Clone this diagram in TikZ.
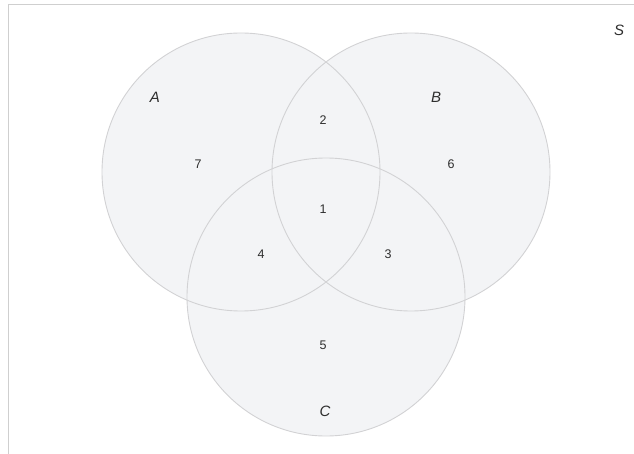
\documentclass[tikz,border=0pt]{standalone}
\usepackage{fontspec}
\setmainfont{Liberation Sans}
\usepackage{tikz}

\definecolor{vennfill}{HTML}{F3F4F6}
\definecolor{vennline}{HTML}{D2D2D4}
\definecolor{vennframe}{HTML}{CFCFCF}
\definecolor{venntext}{HTML}{2E2E2E}

\tikzset{
  setfill/.style={fill=vennfill},
  setline/.style={draw=vennline, line width=0.9pt},
  setname/.style={font=\fontsize{15}{15}\selectfont\itshape, text=venntext},
  region/.style={font=\fontsize{12.5}{12.5}\selectfont, text=venntext}
}

\begin{document}
\begin{tikzpicture}[x=1pt, y=-1pt]
\useasboundingbox (0,0) rectangle (634,454);
% frame of S
\draw[vennframe, line width=1.2pt] (8.5,454) -- (8.5,4.5) -- (634,4.5);
% centres of the three sets
\coordinate (cA) at (241,172);
\coordinate (cB) at (411,172);
\coordinate (cC) at (326,297);
% fill first, outlines after
\fill[setfill] (cA) circle (139);
\fill[setfill] (cB) circle (139);
\fill[setfill] (cC) circle (139);
\draw[setline] (cA) circle (139);
\draw[setline] (cB) circle (139);
\draw[setline] (cC) circle (139);
% set names
\node[setname] (S) at (619,30) {S};
\node[setname] (A) at (155,97) {A};
\node[setname] (B) at (436,97) {B};
\node[setname] (C) at (325,411) {C};
% regions
\node[region] (r1) at (323,209) {1};
\node[region] (r2) at (323,120) {2};
\node[region] (r3) at (388,254) {3};
\node[region] (r4) at (261,254) {4};
\node[region] (r5) at (323,345) {5};
\node[region] (r6) at (451,164) {6};
\node[region] (r7) at (198,164) {7};
\end{tikzpicture}
\end{document}
